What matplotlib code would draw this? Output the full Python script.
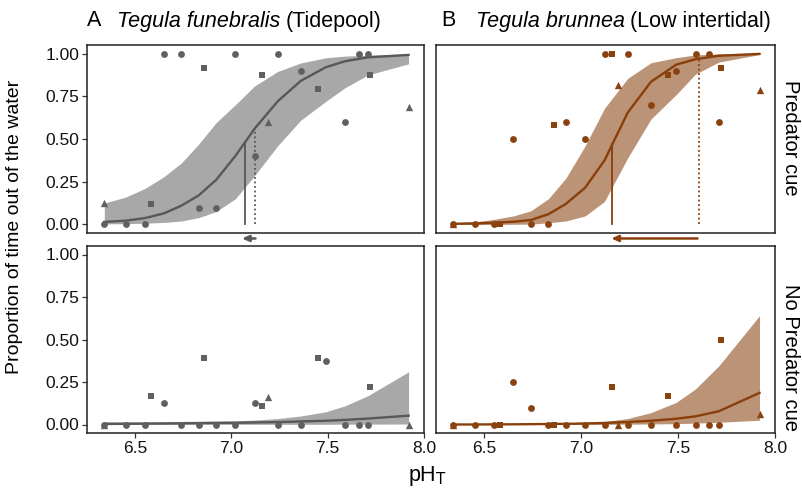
import numpy as np
import matplotlib
matplotlib.use("Agg")
import matplotlib.pyplot as plt

plt.rcParams['font.family'] = ['Liberation Sans', 'DejaVu Sans']

# pH levels per population (marker shape)
ph_circ = [6.34, 6.45, 6.55, 6.65, 6.74, 6.83, 6.92, 7.02, 7.12, 7.24, 7.36, 7.49, 7.59, 7.66, 7.71]
ph_sq = [6.58, 6.86, 7.16, 7.45, 7.72]
ph_tri = [6.34, 7.19, 7.92]

# observed proportions
tf_pred_circ = [0, 0, 0, 1.0, 1.0, 0.097, 0.097, 1.0, 0.40, 1.0, 0.90, np.nan, 0.60, 1.0, 1.0]
tf_pred_sq = [0.122, 0.917, 0.874, 0.791, 0.874]
tf_pred_tri = [0.126, 0.597, 0.690]
tf_nopred_circ = [0, 0, 0, 0.124, 0, 0, 0, 0, 0.124, 0, 0, 0.374, 0, 0, 0]
tf_nopred_sq = [0.167, 0.39, 0.109, 0.39, 0.221]
tf_nopred_tri = [0, 0.159, 0]

tb_pred_circ = [0, 0, 0, 0.5, 0, 0, 0.60, 0.5, 1.0, 1.0, 0.70, 0.897, 1.0, 1.0, 0.60]
tb_pred_sq = [0, 0.583, 1.0, 0.874, 0.917]
tb_pred_tri = [0, 0.816, 0.787]
tb_nopred_circ = [0, 0, 0, 0.248, 0.099, 0, 0, 0, 0, 0, 0, 0, 0, 0, 0]
tb_nopred_sq = [0, 0, 0.221, 0.167, 0.5]
tb_nopred_tri = [0, 0, 0.064]

# fitted curves and 95% bands
fit_ph = [6.34, 6.45, 6.55, 6.65, 6.74, 6.83, 6.92, 7.02, 7.12, 7.24, 7.36, 7.49, 7.59, 7.71, 7.92]
tf_pred_fit = [0.015, 0.022, 0.037, 0.065, 0.11, 0.17, 0.26, 0.40, 0.56, 0.72, 0.84, 0.92, 0.955, 0.978, 0.992]
tf_pred_hi = [0.125, 0.16, 0.21, 0.28, 0.36, 0.47, 0.595, 0.70, 0.81, 0.895, 0.945, 0.975, 0.985, 0.99, 0.996]
tf_pred_lo = [0.003, 0.005, 0.007, 0.012, 0.02, 0.04, 0.075, 0.15, 0.285, 0.46, 0.61, 0.72, 0.80, 0.875, 0.94]
tf_nopred_fit = [0.003, 0.004, 0.005, 0.006, 0.007, 0.008, 0.009, 0.010, 0.012, 0.014, 0.018, 0.022, 0.027, 0.035, 0.052]
tf_nopred_hi = [0.016, 0.016, 0.016, 0.017, 0.018, 0.019, 0.020, 0.022, 0.026, 0.035, 0.050, 0.075, 0.11, 0.17, 0.31]
tf_nopred_lo = [0, 0, 0, 0, 0.001, 0.001, 0.001, 0.001, 0.001, 0.001, 0.001, 0.001, 0.002, 0.002, 0.003]
tb_pred_fit = [0.004, 0.006, 0.010, 0.016, 0.026, 0.060, 0.12, 0.215, 0.375, 0.655, 0.835, 0.935, 0.967, 0.987, 0.998]
tb_pred_hi = [0.01, 0.015, 0.03, 0.05, 0.08, 0.15, 0.27, 0.46, 0.68, 0.855, 0.946, 0.976, 0.992, 0.998, 1.0]
tb_pred_lo = [0, 0, 0, 0.001, 0.002, 0.01, 0.02, 0.05, 0.135, 0.39, 0.617, 0.76, 0.88, 0.95, 0.994]
tb_nopred_fit = [0, 0, 0.001, 0.001, 0.002, 0.003, 0.004, 0.006, 0.009, 0.015, 0.022, 0.034, 0.048, 0.078, 0.186]
tb_nopred_hi = [0.001, 0.001, 0.002, 0.003, 0.004, 0.005, 0.007, 0.01, 0.018, 0.035, 0.07, 0.13, 0.21, 0.345, 0.64]
tb_nopred_lo = [0, 0, 0, 0, 0, 0, 0, 0, 0.001, 0.002, 0.003, 0.005, 0.008, 0.013, 0.025]

# pH at 50% (solid) and reference pH (dotted) in the predator-cue panels
tf_ph50, tf_ref = 7.07, 7.12
tb_ph50, tb_ref = 7.16, 7.61
# arrow ends (tail, tip) under the predator-cue panels
tf_arrow = (7.125, 7.055)
tb_arrow = (7.60, 7.155)

panel_tags = ["A", "B"]
species = ["Tegula funebralis", "Tegula brunnea"]
habitats = ["(Tidepool)", "(Low intertidal)"]
rows = ["Predator cue", "No Predator cue"]

gray_pt, gray_ln = "#606060", "#585858"
brown_pt, brown_ln = "#8a420e", "#8a3f0a"

fig = plt.figure(figsize=(8.03, 4.91), dpi=100)
W, H = 803, 491
col_x = [(87, 424), (436, 775)]
row_y = [(45, 233), (246, 433)]

panels = [
    [(tf_pred_circ, tf_pred_sq, tf_pred_tri, tf_pred_fit, tf_pred_lo, tf_pred_hi),
     (tb_pred_circ, tb_pred_sq, tb_pred_tri, tb_pred_fit, tb_pred_lo, tb_pred_hi)],
    [(tf_nopred_circ, tf_nopred_sq, tf_nopred_tri, tf_nopred_fit, tf_nopred_lo, tf_nopred_hi),
     (tb_nopred_circ, tb_nopred_sq, tb_nopred_tri, tb_nopred_fit, tb_nopred_lo, tb_nopred_hi)],
]
cols = [(gray_pt, gray_ln, "#6a6a6a"), (brown_pt, brown_ln, "#8b4513")]
marks = [(ph_circ, "o", 24), (ph_sq, "s", 22), (ph_tri, "^", 28)]

axes = {}
for r in range(2):
    for c in range(2):
        x0, x1 = col_x[c]
        y0, y1 = row_y[r]
        ax = fig.add_axes([x0 / W, 1 - y1 / H, (x1 - x0) / W, (y1 - y0) / H])
        axes[(r, c)] = ax
        circ, sq, tri, fit, lo, hi = panels[r][c]
        pc, lc, fc = cols[c]
        ax.fill_between(fit_ph, lo, hi, color=fc, alpha=0.58, lw=0, zorder=1)
        ax.plot(fit_ph, fit, color=lc, lw=1.7, zorder=3)
        for (phs, m, s), vals in zip(marks, (circ, sq, tri)):
            ax.scatter(phs, vals, marker=m, s=s, color=pc, lw=0, zorder=4)
        ax.set_xlim(6.25, 8.0)
        ax.set_ylim(-0.05, 1.05)
        ax.set_xticks([6.5, 7.0, 7.5, 8.0])
        ax.set_yticks([0, 0.25, 0.5, 0.75, 1.0])
        ax.tick_params(length=3.5, width=0.9, color="#333333", labelsize=12.5,
                       labelcolor="#111111", pad=2)
        if r == 0:
            ax.tick_params(axis="x", bottom=False, labelbottom=False)
        else:
            ax.set_xticklabels(["6.5", "7.0", "7.5", "8.0"])
        if c == 1:
            ax.tick_params(axis="y", left=False, labelleft=False)
        else:
            ax.set_yticklabels(["0.00", "0.25", "0.50", "0.75", "1.00"])
        for sp in ax.spines.values():
            sp.set_linewidth(1.1)
            sp.set_color("#222222")

# vertical reference lines and shift arrows in the predator-cue row
refs = [(tf_ph50, tf_ref, tf_pred_fit, tf_arrow), (tb_ph50, tb_ref, tb_pred_fit, tb_arrow)]
for c, (p50, ref, fit, arr) in enumerate(refs):
    ax = axes[(0, c)]
    lc = cols[c][1]
    ax.plot([p50, p50], [0, np.interp(p50, fit_ph, fit)], color=lc, lw=1.3, zorder=2)
    ax.plot([ref, ref], [0, np.interp(ref, fit_ph, fit)], color=lc, lw=1.3, ls=(0, (1, 1.5)), zorder=2)
    ax.annotate("", xy=(arr[1], -0.082), xytext=(arr[0], -0.082), xycoords="data",
                annotation_clip=False,
                arrowprops=dict(arrowstyle="-|>,head_length=0.4,head_width=0.18",
                                color=lc, lw=1.8, shrinkA=0, shrinkB=0))

# panel titles: tag, italic species name, habitat
tag_x = [87, 441]
name_x = [117, 476]
for c in range(2):
    ty = 1 - 21 / H
    fig.text(tag_x[c] / W, ty, panel_tags[c], fontsize=15.5, va="center", ha="left")
    t = fig.text(name_x[c] / W, ty, species[c], fontsize=15.5, style="italic", va="center", ha="left")
    fig.canvas.draw()
    bb = t.get_window_extent()
    fig.text((bb.x1 + 5) / W, ty, habitats[c], fontsize=15.5, va="center", ha="left")

fig.text(791 / W, 1 - 138 / H, rows[0], rotation=-90, fontsize=14.5, va="center", ha="center")
fig.text(791 / W, 1 - 358 / H, rows[1], rotation=-90, fontsize=14.5, va="center", ha="center")

fig.text(15 / W, 1 - 227 / H, "Proportion of time out of the water", rotation=90,
         fontsize=14, va="center", ha="center")
fig.text(427 / W, 1 - 476 / H, r"pH$_\mathrm{T}$", fontsize=15.5, va="center", ha="center")

fig.savefig("out.png", dpi=100)
